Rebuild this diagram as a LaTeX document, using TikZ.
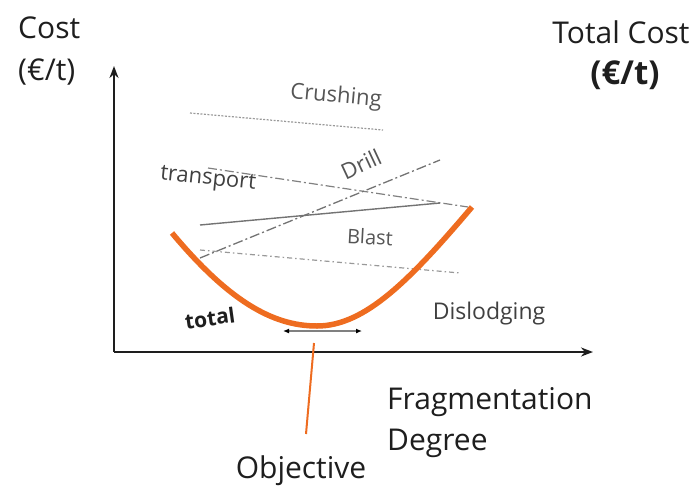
\documentclass[tikz,border=0pt]{standalone}
\usepackage{fontspec}
\setmainfont{Open Sans}
\usepackage{tikz}
\usetikzlibrary{arrows.meta}
\definecolor{curveorange}{RGB}{238,108,32}
\definecolor{inkgray}{RGB}{85,85,85}
\definecolor{darkink}{RGB}{30,30,30}
\tikzstyle{axis}=[line width=2.4pt, darkink, -{Stealth[length=12pt,width=9pt]}]
\tikzstyle{bigtext}=[inner sep=0, text=darkink, font=\fontsize{30}{34}\selectfont]
\tikzstyle{unittext}=[inner sep=0, text=darkink, font=\bfseries\fontsize{33}{38}\selectfont]
\tikzstyle{costtext}=[inner sep=0, text=inkgray, font=\fontsize{22}{26}\selectfont]
\tikzstyle{crushline}=[line width=1.2pt, gray!80, dash pattern=on 2pt off 1.5pt]
\tikzstyle{transline}=[line width=1.2pt, gray, dash pattern=on 9pt off 3pt on 2pt off 3pt]
\tikzstyle{drillline}=[line width=1.3pt, gray!90!black, dash pattern=on 10pt off 3pt on 2pt off 3pt]
\tikzstyle{solidline}=[line width=1.4pt, gray!90!black]
\tikzstyle{blastline}=[line width=1.2pt, gray!80, dash pattern=on 5pt off 3pt on 1.5pt off 3pt]
\tikzstyle{totalcurve}=[line width=5.5pt, curveorange]
\tikzstyle{objline}=[line width=2pt, curveorange]
\tikzstyle{optrange}=[line width=1.2pt, gray, {Latex[length=6pt,width=5pt,black]}-{Latex[length=6pt,width=5pt,black]}]
\begin{document}
\begin{tikzpicture}[x=1pt,y=-1pt]
\useasboundingbox (0,0) rectangle (698,485);
%Axes
\coordinate (origin) at (114,352);
\coordinate (ytip) at (114,66);
\coordinate (xtip) at (593,352);
\draw[axis] (origin) -- (ytip);
\draw[axis] (origin) -- (xtip);
\node[bigtext,anchor=base west] (cost) at (18,38){Cost};
\node[bigtext,anchor=base west] (unit) at (18,80){(€/t)};
\node[bigtext,anchor=base] (tcost) at (621,43){Total Cost};
\node[unittext,anchor=base] (tunit) at (625,84){(€/t)};
\node[bigtext,anchor=base west] (frag) at (387,409){Fragmentation};
\node[bigtext,anchor=base west] (deg) at (387,450){Degree};
%Cost lines
\coordinate (cr1) at (190,113);
\coordinate (cr2) at (383,130);
\coordinate (tr1) at (208,168);
\coordinate (tr2) at (468,207);
\coordinate (dr1) at (200,258);
\coordinate (dr2) at (440,160);
\coordinate (sl1) at (200,225);
\coordinate (sl2) at (440,203);
\coordinate (bl1) at (200,250);
\coordinate (bl2) at (460,273);
\draw[crushline] (cr1) -- (cr2);
\draw[transline] (tr1) -- (tr2);
\draw[drillline] (dr1) -- (dr2);
\draw[solidline] (sl1) -- (sl2);
\draw[blastline] (bl1) -- (bl2);
\node[costtext,rotate=-5] (crush) at (336,97){Crushing};
\node[costtext,rotate=-6,text=darkink!85] (trans) at (208,180){transport};
\node[costtext,rotate=25] (drill) at (361,164){Drill};
\node[costtext,rotate=-3,font=\fontsize{20}{24}\selectfont] (blast) at (370,237){Blast};
\node[costtext,text=darkink!85,font=\fontsize{23}{27}\selectfont] (disl) at (489,314){Dislodging};
%Total
\coordinate (tl) at (172,233);
\coordinate (tmin) at (317,326);
\coordinate (tr) at (472,207);
\draw[totalcurve] (tl) .. controls (228,300) and (272,326) .. (tmin) .. controls (365,326) and (410,280) .. (tr);
\node[costtext,rotate=8,text=darkink,font=\bfseries\fontsize{21}{25}\selectfont] (total) at (210,318){total};
\coordinate (rg1) at (283,331);
\coordinate (rg2) at (362,331);
\draw[optrange] (rg1) -- (rg2);
%Objective
\node[bigtext,anchor=base] (obj) at (301,478){Objective};
\coordinate (objtip) at (314,343);
\coordinate (objend) at (306,434);
\draw[objline] (objtip) -- (objend);
\end{tikzpicture}
\end{document}
